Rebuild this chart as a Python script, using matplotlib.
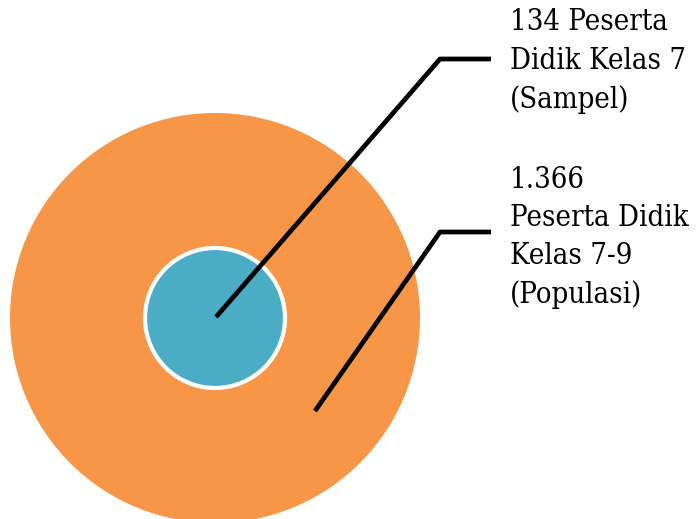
import matplotlib
matplotlib.use("Agg")
import matplotlib.pyplot as plt
from matplotlib.patches import Circle

labels = ["134 Peserta\nDidik Kelas 7\n(Sampel)", "1.366\nPeserta Didik\nKelas 7-9\n(Populasi)"]
colors = ["#4BACC6", "#F79646"]

fig = plt.figure(figsize=(6.96, 5.19), dpi=100)
ax = fig.add_axes([0, 0, 1, 1])
ax.set_xlim(0, 696)
ax.set_ylim(519, 0)
ax.set_aspect("equal")
ax.axis("off")

cx, cy = 215, 318
ax.add_patch(Circle((cx, cy), 205, facecolor=colors[1], edgecolor="none", zorder=1))
ax.add_patch(Circle((cx, cy), 70, facecolor=colors[0], edgecolor="white", linewidth=3, zorder=2))

ax.plot([216, 440, 491], [317, 59, 59], color="black", lw=3.4, solid_capstyle="butt", zorder=3)
ax.plot([315, 440, 491], [411, 232, 232], color="black", lw=3.4, solid_capstyle="butt", zorder=3)

ax.text(510, 8, labels[0], fontsize=21, family="DejaVu Serif", fontstretch="condensed",
        va="top", ha="left", linespacing=1.48)
ax.text(510, 166, labels[1], fontsize=21, family="DejaVu Serif", fontstretch="condensed",
        va="top", ha="left", linespacing=1.45)

fig.savefig("out.png", dpi=100)
